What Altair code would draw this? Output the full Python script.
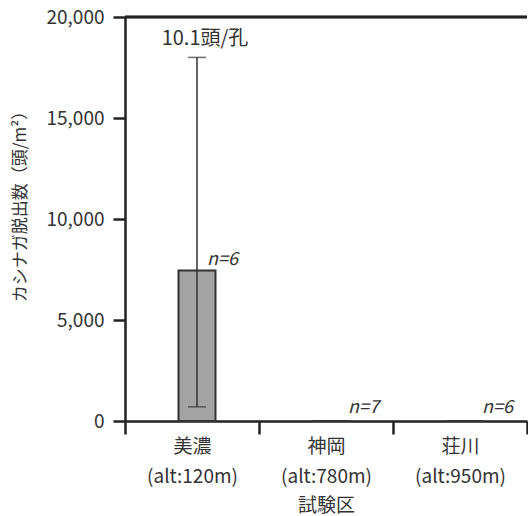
import altair as alt
import pandas as pd

sites = ["美濃", "神岡", "荘川"]
alts = ["(alt:120m)", "(alt:780m)", "(alt:950m)"]
means = [7450, 0, 0]
err_low = [700, None, None]
err_high = [18000, None, None]
n_labels = ["n=6", "n=7", "n=6"]
top_note = ["10.1頭/孔", "", ""]

cats = [f"{s}|{a}" for s, a in zip(sites, alts)]
df = pd.DataFrame({
    "cat": cats, "mean": means, "lo": err_low, "hi": err_high,
    "n": n_labels, "note": top_note,
})
err_df = df.dropna(subset=["hi"])

FONT = "Noto Sans CJK JP"
TXT = "#333333"
LINE = "#222222"
BAR_SHIFT = 5

x = alt.X("cat:N", sort=cats, title="試験区",
          scale=alt.Scale(paddingInner=0, paddingOuter=0),
          axis=alt.Axis(labelAngle=0, tickBand="extent",
                        labelExpr="split(datum.label, '|')",
                        labelLineHeight=30, labelFontSize=19,
                        labelPadding=3, tickSize=13, tickWidth=2.5,
                        domainWidth=2.5, domainColor=LINE, tickColor=LINE,
                        labelColor=TXT, titleColor=TXT, titleFontSize=19,
                        titleFontWeight="normal", titleBaseline="middle",
                        titleY=84, labelFont=FONT, titleFont=FONT))

y_scale = alt.Scale(domain=[0, 20000], nice=False)
y = alt.Y("mean:Q", scale=y_scale, title="カシナガ脱出数（頭/m²）",
          axis=alt.Axis(values=[0, 5000, 10000, 15000, 20000],
                        labelExpr="format(datum.value, ',')",
                        tickSize=12, tickWidth=2.5, domainWidth=2.5,
                        domainColor=LINE, tickColor=LINE, labelColor=TXT,
                        labelFontSize=19, labelPadding=9, grid=False,
                        titleColor=TXT, titleFontSize=17,
                        titleFontWeight="normal", titleX=-105, titleY=185,
                        titleAlign="center", titleBaseline="middle",
                        labelFont=FONT, titleFont=FONT))

base = alt.Chart(df)
xs = alt.X("cat:N", sort=cats)

bars = base.mark_bar(size=37, color="#a3a3a3", stroke="#333333",
                     strokeWidth=2, xOffset=BAR_SHIFT).encode(x=x, y=y)

err = alt.Chart(err_df).mark_rule(color="#333333", strokeWidth=1.5,
                                  xOffset=BAR_SHIFT).encode(
    x=xs, y=alt.Y("lo:Q", scale=y_scale), y2="hi:Q")
cap_hi = alt.Chart(err_df).mark_tick(color="#333333", size=18, thickness=1.5,
                                     xOffset=BAR_SHIFT).encode(
    x=xs, y=alt.Y("hi:Q", scale=y_scale))
cap_lo = alt.Chart(err_df).mark_tick(color="#333333", size=18, thickness=1.5,
                                     xOffset=BAR_SHIFT).encode(
    x=xs, y=alt.Y("lo:Q", scale=y_scale))

n_text_bar = base.transform_filter("datum.mean > 0").mark_text(
    align="left", baseline="alphabetic", dx=15, dy=-6,
    fontStyle="italic", fontSize=18, font=FONT, color=TXT).encode(
    x=xs, y=alt.Y("mean:Q", scale=y_scale), text="n:N")
n_text_zero = base.transform_filter("datum.mean <= 0").mark_text(
    align="left", baseline="alphabetic", dx=22, dy=-8,
    fontStyle="italic", fontSize=18, font=FONT, color=TXT).encode(
    x=xs, y=alt.Y("mean:Q", scale=y_scale), text="n:N")

note_text = alt.Chart(err_df).mark_text(
    align="center", baseline="alphabetic", dx=13, dy=-12,
    fontSize=20, font=FONT, color=TXT).encode(
    x=xs, y=alt.Y("hi:Q", scale=y_scale), text="note:N")

top_line = alt.Chart(df).mark_rule(color=LINE, strokeWidth=2.5).encode(
    y=alt.datum(20000, scale=y_scale))

chart = alt.layer(bars, err, cap_hi, cap_lo, n_text_bar, n_text_zero,
                  note_text, top_line).properties(
    width=402, height=404,
    autosize=alt.AutoSizeParams(type="none"),
    padding={"left": 125, "top": 17, "right": 1, "bottom": 95},
    background="white",
).configure_view(stroke=None)

chart.save("out.html", embed_options={"renderer": "svg", "actions": False})
